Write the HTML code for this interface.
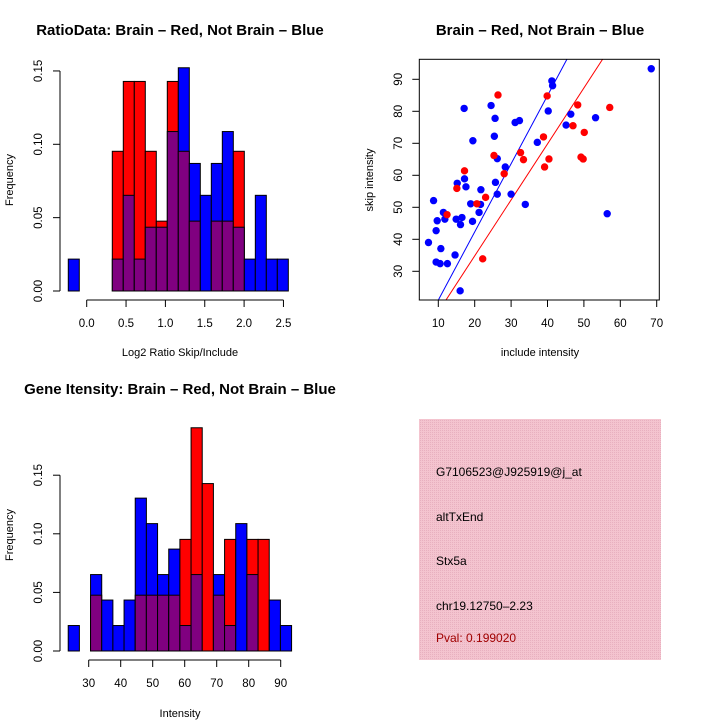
<!DOCTYPE html>
<html><head><meta charset="utf-8"><style>
body{margin:0;background:#fff}
svg{display:block;font-family:"Liberation Sans",sans-serif}
</style></head><body>
<svg id="c" width="720" height="720" viewBox="0 0 720 720">
<defs><pattern id="pk" width="2" height="2" patternUnits="userSpaceOnUse"><rect width="2" height="2" fill="#f4c4cf"/><rect width="1" height="1" fill="#e8b0bf"/></pattern></defs>
<text x="180" y="35" text-anchor="middle" font-size="15" font-weight="bold">RatioData: Brain – Red, Not Brain – Blue</text>
<text x="540" y="35" text-anchor="middle" font-size="15" font-weight="bold">Brain – Red, Not Brain – Blue</text>
<text x="180" y="394" text-anchor="middle" font-size="15" font-weight="bold">Gene Itensity: Brain – Red, Not Brain – Blue</text>
<text x="180" y="356" text-anchor="middle" font-size="11">Log2 Ratio Skip/Include</text>
<text transform="translate(13,180) rotate(-90)" text-anchor="middle" font-size="11">Frequency</text>
<text x="540" y="356" text-anchor="middle" font-size="11">include intensity</text>
<text transform="translate(373,180) rotate(-90)" text-anchor="middle" font-size="11">skip intensity</text>
<text x="180" y="717" text-anchor="middle" font-size="11">Intensity</text>
<text transform="translate(13,535) rotate(-90)" text-anchor="middle" font-size="11">Frequency</text>
<g>
<rect x="419" y="419" width="242" height="241" fill="url(#pk)"/>
<text x="436" y="476" font-size="12">G7106523@J925919@j_at</text>
<text x="436" y="521" font-size="12">altTxEnd</text>
<text x="436" y="565" font-size="12">Stx5a</text>
<text x="436" y="610" font-size="12">chr19.12750–2.23</text>
<text x="436" y="642" font-size="12" fill="#a00000">Pval: 0.199020</text>
</g>
</svg>
<script>
const ratioBlue=[1,0,0,0,1,3,1,2,2,5,7,4,3,4,5,2,1,3,1,1];
const ratioRed=[0,0,0,0,2,3,3,2,1,3,2,1,0,1,1,2,0,0,0,0];
const ratioTicks=[0,0.5,1,1.5,2,2.5];
const ratioYTicks=[0,0.05,0.1,0.15];
const intBlue=[1,0,3,2,1,2,6,5,3,4,1,3,0,3,1,5,3,0,2,1];
const intRed=[0,0,1,0,0,0,1,1,1,1,2,4,3,1,2,0,2,2,0,0];
const intTicks=[30,40,50,60,70,80,90];
const intYTicks=[0,0.05,0.1,0.15];
const blueX=[7.3,8.7,9.4,9.7,9.4,10.5,10.7,11.4,11.8,12.5,14.6,14.9,15.2,16,16.1,16.5,17.1,17.2,17.6,18.9,19.5,19.4,21.2,21.6,21.7,24.5,25.4,25.6,26.2,25.7,26.2,28.4,30,31.1,32.3,33.9,37.2,40.2,41.2,41.4,45.1,46.4,53.2,56.4,68.5];
const blueY=[39,52.1,42.7,45.8,32.9,32.4,37.1,48.4,46.3,32.4,35.1,46.3,57.5,23.9,44.6,46.8,80.9,58.9,56.4,51.1,70.8,45.6,48.4,50.9,55.5,81.8,72.2,77.8,65.2,57.8,54.1,62.6,54.1,76.5,77.1,50.9,70.3,80.1,89.5,88,75.7,79.1,78,48,93.3];
const redX=[12.4,15.1,17.2,20.6,22.2,23,25.3,26.4,28.1,32.6,33.4,38.9,39.2,39.9,40.4,47,48.3,49.2,49.8,50.1,57.1];
const redY=[47.7,55.9,61.4,51.1,33.9,53.1,66.2,85.1,60.5,67.1,64.9,72,62.6,84.8,65.1,75.5,82,65.7,65.1,73.4,81.2];
const scatXTicks=[10,20,30,40,50,60,70];
const scatYTicks=[30,40,50,60,70,80,90];
const blueFit=[-0.3,2.13];
const redFit=[-0.16,1.749];

const svg=document.getElementById('c');
const NS='http://www.w3.org/2000/svg';
function mk(t,a,p){const e=document.createElementNS(NS,t);for(const k in a)e.setAttribute(k,a[k]);(p||svg).appendChild(e);return e;}

function hist(blue,red,nB,nR,x0,bw,xs,ys,xticks,yticks,axY,name,fmtY,fmtX){
  const g=mk('g',{});
  
  
  for(let i=0;i<blue.length;i++){
    const b=blue[i]/nB,r=red[i]/nR;
    const lx=xs(x0+i*bw),rx=xs(x0+(i+1)*bw);
    const hi=Math.max(b,r),lo=Math.min(b,r);
    if(hi>0){
      const e=mk('rect',{x:lx,y:ys(hi),width:rx-lx,height:ys(0)-ys(hi),fill:b>=r?'#0000ff':'#ff0000',stroke:'#000','stroke-width':1},g);
      
      
    }
    if(lo>0){
      const e=mk('rect',{x:lx,y:ys(lo),width:rx-lx,height:ys(0)-ys(lo),fill:'#800080',stroke:'#000','stroke-width':1},g);
      
      
    }
  }
  mk('line',{x1:60,x2:60,y1:ys(yticks[0]),y2:ys(yticks[yticks.length-1]),stroke:'#000'},g);
  yticks.forEach(v=>{mk('line',{x1:53,x2:60,y1:ys(v),y2:ys(v),stroke:'#000'},g);
    const t=mk('text',{transform:`translate(42,${ys(v)}) rotate(-90)`,'text-anchor':'middle','font-size':11.5},g);t.textContent=fmtY(v);
    
    });
  mk('line',{x1:xs(xticks[0]),x2:xs(xticks[xticks.length-1]),y1:axY,y2:axY,stroke:'#000'},g);
  xticks.forEach(v=>{mk('line',{x1:xs(v),x2:xs(v),y1:axY,y2:axY+7,stroke:'#000'},g);
    const t=mk('text',{x:xs(v),y:axY+27,'text-anchor':'middle','font-size':11.5},g);t.textContent=fmtX(v);
    
    });
}
hist(ratioBlue,ratioRed,46,21,-0.234,0.1398,v=>86.7+v*78.7,v=>291-v*1467,ratioTicks,ratioYTicks,300,'ratio-histogram',v=>v.toFixed(2),v=>v.toFixed(1));
hist(intBlue,intRed,46,21,23.6,3.49,v=>88.7+(v-30)*3.2,v=>651-v*1172,intTicks,intYTicks,660,'intensity-histogram',v=>v.toFixed(2),v=>String(v));

const sx=v=>438.3+(v-10)*3.64, sy=v=>79.3-(v-90)*3.2;
const L=419.3,R=659.3,T=59.3,B=300;
const sg=mk('g',{});


mk('clipPath',{id:'sc'},sg);
mk('rect',{x:L,y:T,width:R-L,height:B-T},document.getElementById('sc'));
function fit(f,col,nm){
  const xa=4,xb=71;
  const l=mk('line',{x1:sx(xa),y1:sy(f[0]+f[1]*xa),x2:sx(xb),y2:sy(f[0]+f[1]*xb),stroke:col,'stroke-width':1,'clip-path':'url(#sc)'},sg);
  
  
}
fit(blueFit,'#0000ff','blue-fit-line');
fit(redFit,'#ff0000','red-fit-line');
blueX.forEach((x,i)=>{const c=mk('circle',{cx:sx(x),cy:sy(blueY[i]),r:3.7,fill:'#0000ff'},sg);
  
  });
redX.forEach((x,i)=>{const c=mk('circle',{cx:sx(x),cy:sy(redY[i]),r:3.7,fill:'#ff0000'},sg);
  
  });
mk('rect',{x:L,y:T,width:R-L,height:B-T,fill:'none',stroke:'#000'},sg);
scatXTicks.forEach(v=>{mk('line',{x1:sx(v),x2:sx(v),y1:B,y2:B+7,stroke:'#000'},sg);
  const t=mk('text',{x:sx(v),y:B+27,'text-anchor':'middle','font-size':11.5},sg);t.textContent=v;
  
  });
scatYTicks.forEach(v=>{mk('line',{x1:L-7,x2:L,y1:sy(v),y2:sy(v),stroke:'#000'},sg);
  const t=mk('text',{transform:`translate(402,${sy(v)}) rotate(-90)`,'text-anchor':'middle','font-size':11.5},sg);t.textContent=v;
  
  });
</script>
</body></html>
